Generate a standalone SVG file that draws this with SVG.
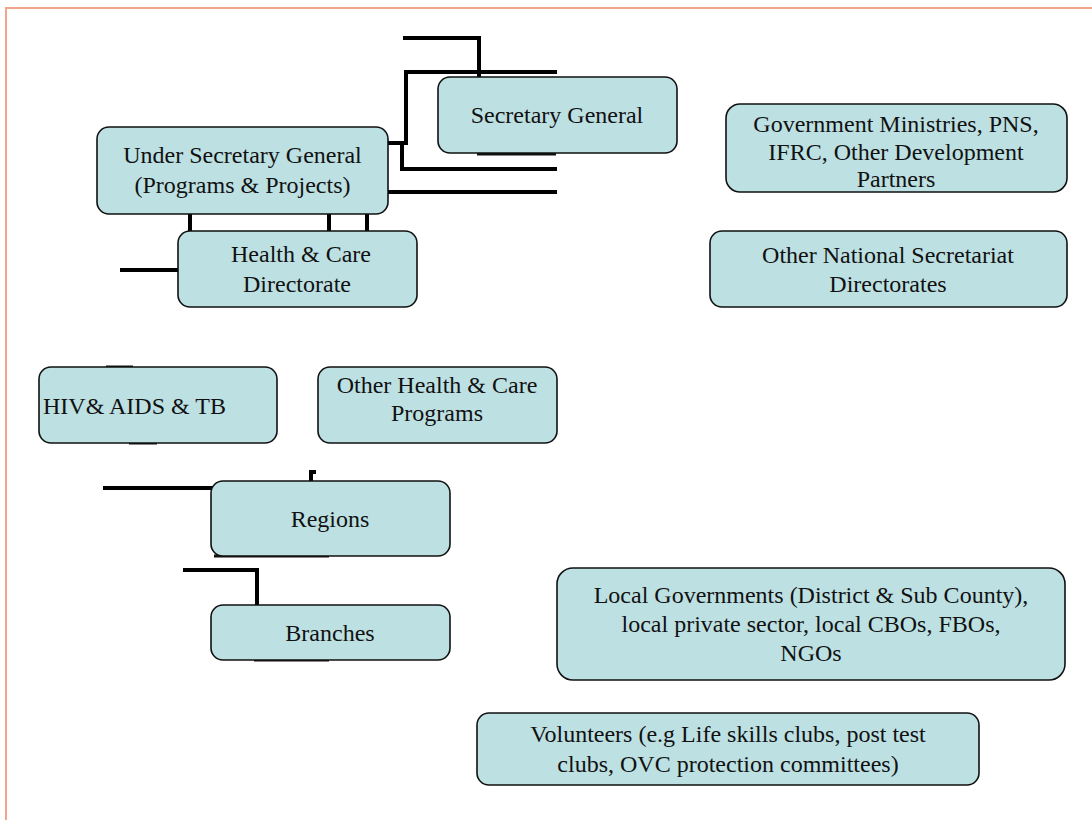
<svg xmlns="http://www.w3.org/2000/svg" width="1092" height="820" viewBox="0 0 1092 820">
<style>
.box{fill:#bde0e3;stroke:#111;stroke-width:1.6}
.t{font-family:"Liberation Serif","Times New Roman",serif;font-size:24px;fill:#111;text-anchor:middle}
.c{fill:none;stroke:#000;stroke-width:4}
.e{fill:none;stroke:#111;stroke-width:3}
</style>
<rect width="1092" height="820" fill="#fff"/>
<path d="M6,820 V8 H1092" fill="none" stroke="#f5a48c" stroke-width="2"/>
<g id="connectors">
<path class="c" d="M403,38 H479 V77"/>
<path class="c" d="M557,72 H406 V143 H388"/>
<path class="c" d="M388,143 H402 V169 H557"/>
<path class="c" d="M388,192 H557"/>
<path class="e" d="M477,154 H556"/>
<path class="c" d="M190,214 V231 M329,214 V231 M367,214 V231"/>
<path class="c" d="M120,270 H178"/>
<path class="e" d="M106,367 H133 M129,443 H157"/>
<path class="c" d="M103,488 H213"/>
<path class="c" d="M311,481 V472 H316"/>
<path class="e" d="M214,556 H329"/>
<path class="c" d="M183,570 H257 V605"/>
<path class="e" d="M254,660 H329"/>
</g>
<g id="secretary-general"><rect class="box" x="438" y="77" width="239" height="76" rx="12"/><text class="t" x="557" y="123">Secretary General</text></g>
<g id="under-secretary-general"><rect class="box" x="97" y="127" width="291" height="87" rx="12"/><text class="t" x="242.5" y="163">Under Secretary General</text><text class="t" x="242.5" y="193">(Programs &amp; Projects)</text></g>
<g id="health-care"><rect class="box" x="178" y="231" width="239" height="76" rx="12"/><text class="t" x="301" y="262">Health &amp; Care</text><text class="t" x="297" y="292">Directorate</text></g>
<g id="gov-ministries"><rect class="box" x="726" y="104" width="341" height="88" rx="14"/><text class="t" x="896" y="132">Government Ministries, PNS,</text><text class="t" x="896" y="159.5">IFRC, Other Development</text><text class="t" x="896" y="187">Partners</text></g>
<g id="other-national"><rect class="box" x="710" y="231" width="357" height="76" rx="12"/><text class="t" x="888" y="263">Other National Secretariat</text><text class="t" x="888" y="292">Directorates</text></g>
<g id="hiv"><rect class="box" x="39" y="367" width="238" height="76" rx="12"/><text class="t" x="43" y="414" style="text-anchor:start">HIV&amp; AIDS &amp; TB</text></g>
<g id="other-health"><rect class="box" x="318" y="367" width="239" height="76" rx="12"/><text class="t" x="437" y="393">Other Health &amp; Care</text><text class="t" x="437" y="421">Programs</text></g>
<g id="regions"><rect class="box" x="211" y="481" width="239" height="75" rx="12"/><text class="t" x="330" y="527">Regions</text></g>
<g id="branches"><rect class="box" x="211" y="605" width="239" height="55" rx="12"/><text class="t" x="330" y="641">Branches</text></g>
<g id="local-governments"><rect class="box" x="557" y="568" width="508" height="112" rx="16"/><text class="t" x="811" y="603">Local Governments (District &amp; Sub County),</text><text class="t" x="811" y="632">local private sector, local CBOs, FBOs,</text><text class="t" x="811" y="661">NGOs</text></g>
<g id="volunteers"><rect class="box" x="477" y="713" width="502" height="72" rx="12"/><text class="t" x="728" y="742">Volunteers (e.g Life skills clubs, post test</text><text class="t" x="728" y="772">clubs, OVC protection committees)</text></g>
</svg>
